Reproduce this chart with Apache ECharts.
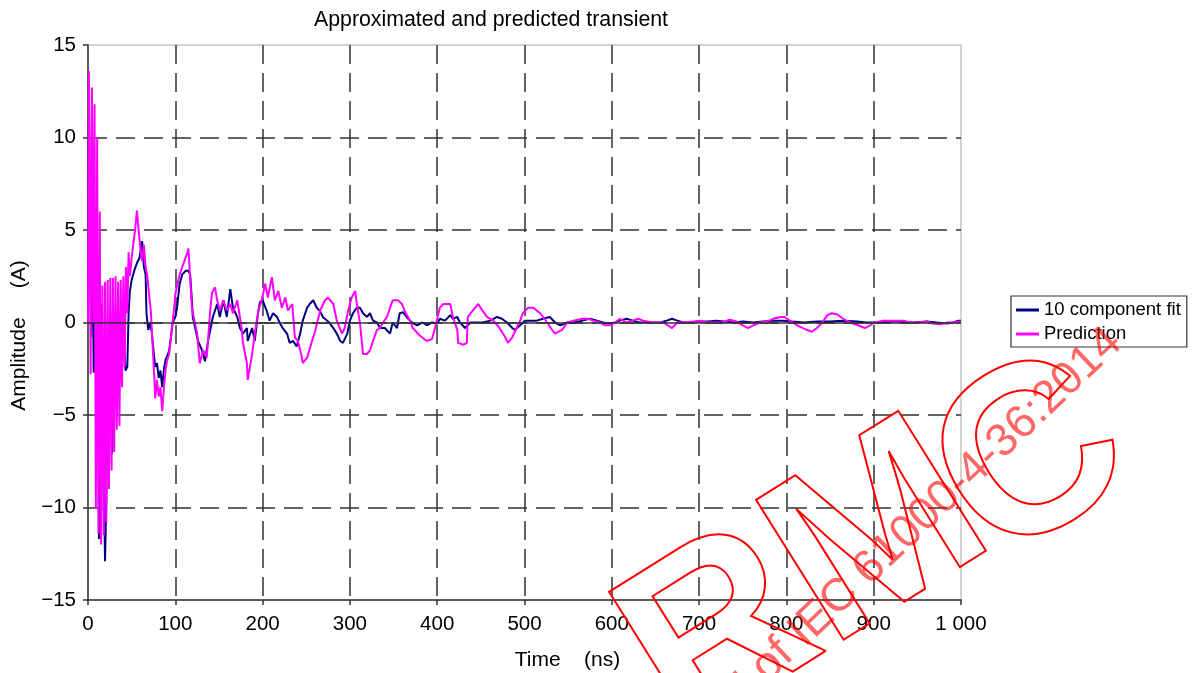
<!DOCTYPE html>
<html>
<head>
<meta charset="utf-8">
<script src="https://cdn.jsdelivr.net/npm/echarts@6/dist/echarts.min.js"></script>
<style>
html,body{margin:0;padding:0;background:#fff;}
#chart{width:1195px;height:673px;}
</style>
</head>
<body>
<div id="chart"></div>
<script>
// ---- data ----
var xTicks = [0, 100, 200, 300, 400, 500, 600, 700, 800, 900, 1000];
var yTicks = [-15, -10, -5, 0, 5, 10, 15];
var seriesNames = ['10 component fit', 'Prediction'];

var tFit = [0,1,2.3,3.5,5,6.5,8,9.5,11,12.6,14,16,18,19.5,21,22.5,24,25.5,27.5,29,31,33,35,37,39,41,43,45,46.5,48,50,53,56,59,62,64,66,67,69,71,73,75,77,79,81,83,85,87,89,91,93,95,97,100,102,105,108,112,115,117,119,120,126,130.6,134,137.5,143,148,151,155,159,163,166,171,174,177.5,182,183,188,191,195,197,200,205,208,212,216.5,220,223,228,231,235,239,243,246,251,254,258,262,266,269,274,277,281,285,289,292,297,300,303.5,308,311.6,315,319.6,323,326.5,331,334.5,340,346,349,354,357,361,365,371,377,383,388,394,400,403,409,415,418,423,426,432,438,446,452,461,468.5,474,480,486,489,495,500.6,506,514,521,529,535,541,549,556,566,575,583,590,596,604,609,617,624,632,644,655,663,669,675,682,690,699,710,720,739,750,762,773,785,796,807,820,835,850,865,881,892,904,919,934,945,961,972,984,991,997,1000];
var vFit = [0,11,7.1,-0.8,6,-2.7,4.6,-6,2,-11.7,0,1.0,-8,-12.9,-9.6,-1,-5,0.5,-7.1,-2,0.5,-3.5,0.5,-3,0,-1.3,-2.6,-2.4,0.5,1.7,2.3,2.8,3.2,3.5,4.4,3.0,2.6,0.5,-0.4,0,-0.5,-1.5,-2.4,-2.2,-3,-2.6,-3.5,-2.5,-2,-1.8,-1.5,-0.8,0,0.3,0.8,2.1,2.6,2.8,2.8,2.6,1.2,0.3,-1.0,-1.5,-2.1,-1.0,0.3,1.0,0.3,1.2,0.3,1.8,0.8,0.3,-0.3,-0.6,-0.3,-1.0,-0.3,-1.0,0.6,1.1,1.2,0.6,0.1,0.5,0.3,-0.05,-0.3,-0.6,-1.1,-1.0,-1.3,-0.6,0.1,0.8,1.0,1.2,0.8,0.6,0.3,0.1,-0.05,-0.3,-0.6,-1.0,-1.1,-0.6,0.1,0.5,0.8,0.8,0.5,0.3,0.5,0.1,0,-0.3,-0.3,-0.6,0,-0.3,0.5,0.55,0.3,0,-0.15,0,-0.15,0,-0.05,0.2,0.1,0.4,0.2,0.3,0,-0.3,0,0,0,0.1,0.3,0.2,0,-0.3,-0.4,-0.15,0.1,0.1,0.1,0.2,0.3,0,-0.15,0,0,0.1,0.2,0.1,0,-0.05,0,0.1,0.2,0.1,0,0,0,0.1,0.2,0.1,0,0,0.05,0.05,0.1,0,0.05,0,0.05,0.1,0.1,0.05,0,0.05,0.05,0.1,0.05,0,0,0.05,0.05,0,0.05,0,-0.05,0,0.1,0.1];

var tPred = [0,1,2,3,4.5,6,7.5,9,10.5,12,13.5,15,16.5,18,19.5,21,22.5,24,25.5,27,28.5,30,31.5,33,34.5,36,37.5,39,40.5,42,43.5,45,46.5,48,50,52,54,56,58,60,62,64,66,68,70,72,74,76,77,79,81,83,85,87,89,91,93,95,96,98,100,102,105,108,111,114,115,117,119,125,128,132,136,140,142,145.5,148,151,155,159,163,166,171,172,176,177.5,182,183,188,191,195,199,203,206,210.6,214,218,222,226,229,234,237,240.5,245,246,251,256.6,260,266,271.5,275,281,285,291,294,298,302,306,308,311.6,315,319.6,323,326.5,331,334.5,338,342.5,346,349,355,359.7,363,369,372,380,388,394,397.5,403,407,415,418,423,424,430,434,435,440,447,451,457,464,470,474,478,481,486,491,495,498,504,510,518,526,531.5,535,543,549,556,566,573,578.5,586.5,592,598,604,609,617,624,630,636,647,659,664,669,675,682,693,701,709,716,726,735,743,750,756,762,770,778,785,793,798,804,812,819,829,835,841,847,852,858,865,873,882,890,896,901,911,922,934,942,950,961,968,976,984,991,997,1000];
var vPred = [0,13.6,7,-2.8,12.7,0,11.8,-10,10,-11.4,6,-12,2,-11.5,2.2,-10.8,2.3,-9,2.4,-8,2.4,-7,2.5,-5.8,2.2,-5.6,2.3,-3.5,2.5,-2.4,3,0.5,3.8,2.5,3.5,4.3,5,6.05,5,4,3.3,4.2,3,2.5,1.5,0.6,-1.2,-3,-4.1,-3.1,-4,-3.5,-4.8,-3.5,-2.5,-2,-1.7,-0.8,-0.3,0.5,1.5,2,2.6,3,3.4,3.8,4.0,4.0,0.8,-0.6,-2.2,-1.5,-1.9,0.65,1.6,1.9,1.2,0.65,1.2,0.65,1.0,0.5,1.2,1.3,-0.3,-1.1,-2.2,-3.1,-1.7,-0.6,0.6,1.2,2.1,1.35,2.45,1.2,1.7,0.8,1.35,0.65,1.0,-0.8,-1.0,-1.9,-2.2,-1.9,-1.0,-0.5,0.65,1.2,1.35,1.0,0.1,-0.6,-0.3,0.65,1.35,1.7,1.0,-0.05,-1.7,-1.7,-1.5,-1.0,-0.4,-0.3,0,0.3,0.8,1.2,1.2,1.0,0.6,0.1,-0.3,-0.7,-1.0,-0.9,-0.3,0.8,1.0,1.0,0.3,-0.4,-1.1,-1.2,-1.1,0.3,0.6,1.0,0.7,0.3,0.1,-0.2,-0.5,-0.8,-1.1,-0.8,-0.3,0.1,0.5,0.8,0.8,0.5,0,-0.4,-0.6,-0.4,0,0.1,0.2,0.2,0.1,0,-0.15,-0.15,0,0.2,0,0.1,0.2,0.1,0,0,-0.15,-0.3,0,0,0.05,0.1,0,0,0,0.15,0.05,-0.15,-0.3,-0.15,0,0.05,0.2,0.3,0.3,0.1,-0.15,-0.3,-0.5,-0.3,0,0.4,0.5,0.45,0.2,0,-0.15,-0.3,-0.15,0,0.1,0.1,0.1,0,0,0.05,-0.05,-0.1,0,0,0.05,0.05];

function pairs(t, v) { var out = []; for (var i = 0; i < t.length; i++) out.push([t[i], v[i]]); return out; }

var FONT = 'Liberation Sans, Arial, Helvetica, sans-serif';
var chart = echarts.init(document.getElementById('chart'), null, { renderer: 'canvas' });

var option = {
  backgroundColor: '#ffffff',
  animation: false,
  title: {
    text: 'Approximated and predicted transient',
    left: 486, top: 5, textAlign: 'center',
    textStyle: { fontFamily: FONT, fontSize: 21.3, fontWeight: 'normal', color: '#000' }
  },
  legend: {
    orient: 'vertical',
    left: 1011, top: 296,
    data: seriesNames,
    icon: 'rect', itemWidth: 23, itemHeight: 3, itemGap: 4,
    padding: [4, 6, 3, 5],
    backgroundColor: '#fff', borderColor: '#333', borderWidth: 1.2, borderRadius: 0,
    textStyle: { fontFamily: FONT, fontSize: 18.5, color: '#000', lineHeight: 20 }
  },
  grid: {
    left: 88, right: 234, top: 45, bottom: 73,
    containLabel: false, outerBoundsMode: 'none',
    show: true, borderColor: '#a8a8a8', borderWidth: 1, backgroundColor: '#fff'
  },
  xAxis: {
    type: 'value', min: 0, max: 1000, interval: 100,
    name: 'Time    (ns)', nameLocation: 'middle', nameGap: 50,
    nameTextStyle: { fontFamily: FONT, fontSize: 21, color: '#000', padding: [0, 0, 0, 86] },
    axisLine: { show: true, onZero: false, lineStyle: { color: '#333', width: 1.5 } },
    axisTick: { show: true, length: 5, lineStyle: { color: '#333', width: 1.5 } },
    axisLabel: {
      fontFamily: FONT, fontSize: 20.5, color: '#000', margin: 14,
      formatter: function (v) { return xTicks.indexOf(v) >= 0 ? (v === 1000 ? '1 000' : String(v)) : ''; }
    },
    splitLine: { show: true, showMinLine: false, showMaxLine: false,
      lineStyle: { color: '#333', width: 1.5, type: [19, 9] } }
  },
  yAxis: {
    type: 'value', min: -15, max: 15, interval: 5,
    name: 'Amplitude     (A)', nameLocation: 'middle', nameGap: 58,
    nameTextStyle: { fontFamily: FONT, fontSize: 21, color: '#000', padding: [0, 26, 0, 0] },
    axisLine: { show: true, onZero: false, lineStyle: { color: '#333', width: 1.5 } },
    axisTick: { show: true, length: 5, lineStyle: { color: '#333', width: 1.5 } },
    axisLabel: {
      fontFamily: FONT, fontSize: 20.5, color: '#000', margin: 12,
      formatter: function (v) { return yTicks.indexOf(v) >= 0 ? String(v).replace('-', '\u2212') : ''; }
    },
    splitLine: { show: true, showMinLine: false, showMaxLine: false,
      lineStyle: { color: '#333', width: 1.5, type: [19, 9] } }
  },
  series: [
    {
      name: seriesNames[0], type: 'line', data: pairs(tFit, vFit),
      showSymbol: false, symbol: 'none', color: '#000080',
      lineStyle: { color: '#000080', width: 2 },
      markLine: {
        silent: true, symbol: 'none', label: { show: false },
        lineStyle: { color: '#333', width: 1.5, type: 'solid' },
        data: [{ yAxis: 0 }]
      },
      z: 2
    },
    {
      name: seriesNames[1], type: 'line', data: pairs(tPred, vPred),
      showSymbol: false, symbol: 'none', color: '#ff00ff',
      lineStyle: { color: '#ff00ff', width: 2 },
      z: 3
    }
  ],
  graphic: [
    {
      type: 'text', silent: true, z: 100,
      x: 648, y: 684, rotation: 32 * Math.PI / 180,
      style: {
        text: 'RM', font: 'bold 240px ' + FONT,
        fill: 'none', stroke: '#ff0000', lineWidth: 2,
        align: 'left', verticalAlign: 'middle', textAlign: 'left', textVerticalAlign: 'middle'
      }
    },
    {
      type: 'text', silent: true, z: 100,
      x: 960, y: 510, rotation: 32 * Math.PI / 180,
      style: {
        text: 'C', font: 'bold 240px ' + FONT,
        fill: 'none', stroke: '#ff0000', lineWidth: 2,
        align: 'left', verticalAlign: 'middle', textAlign: 'left', textVerticalAlign: 'middle'
      }
    },
    {
      type: 'text', silent: true, z: 101,
      x: 1115, y: 336, rotation: 43.5 * Math.PI / 180,
      style: {
        text: 'IECNORM.COM : Click to view the full PDF of IEC 61000-4-36:2014',
        font: '46px ' + FONT,
        fill: 'rgba(255,0,0,0.6)',
        align: 'right', verticalAlign: 'middle', textAlign: 'right', textVerticalAlign: 'middle'
      }
    }
  ]
};
chart.setOption(option);
</script>
</body>
</html>
